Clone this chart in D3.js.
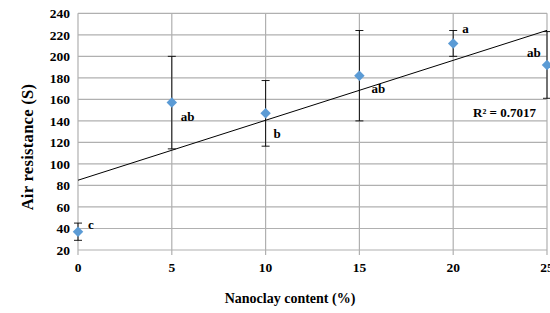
<!DOCTYPE html>
<html><head><meta charset="utf-8">
<script src="https://cdn.jsdelivr.net/npm/d3@7"></script>
<style>body{margin:0;background:#fff}svg{display:block}</style>
</head><body><svg id="c" width="550" height="313"></svg>
<script>
const xValues = [0, 5, 10, 15, 20, 25];
const yValues = [37, 157, 147, 182, 212, 192];
const errValues = [8, 43, 30.5, 42, 12, 31];
const letters = ["c", "ab", "b", "ab", "a", "ab"];
const yTicks = [20, 40, 60, 80, 100, 120, 140, 160, 180, 200, 220, 240];
const xTicks = [0, 5, 10, 15, 20, 25];
const r2Label = "R² = 0.7017";

const svg = d3.select("#c");
const x = d3.scaleLinear().domain([0, 25]).range([78, 547]);
const y = d3.scaleLinear().domain([20, 240]).range([250, 13.3]);
const font = "Liberation Serif, Times New Roman, Times, serif";

// grid
svg.append("g").selectAll("line").data(yTicks).join("line")
  .attr("x1", 78).attr("x2", 547).attr("y1", d => y(d)).attr("y2", d => y(d))
  .attr("stroke", "#b0b0b0").attr("stroke-width", 1.2);
svg.append("g").selectAll("line").data(xTicks).join("line")
  .attr("x1", d => x(d)).attr("x2", d => x(d)).attr("y1", y(240)).attr("y2", y(20) + 5)
  .attr("stroke", "#b0b0b0").attr("stroke-width", 1.2);

// y tick labels
svg.append("g").selectAll("text").data(yTicks).join("text")
  .attr("x", 70).attr("y", d => y(d)).attr("dy", "0.35em")
  .attr("text-anchor", "end").style("font-family", font).attr("font-weight", "bold")
  .attr("font-size", 13.5).text(d => d);
// x tick labels
svg.append("g").selectAll("text").data(xTicks).join("text")
  .attr("x", d => x(d)).attr("y", 272)
  .attr("text-anchor", "middle").style("font-family", font).attr("font-weight", "bold")
  .attr("font-size", 13.5).text(d => d);

// axis titles
svg.append("text").attr("transform", "translate(33,147) rotate(-90)")
  .attr("text-anchor", "middle").style("font-family", font).attr("font-weight", "bold")
  .attr("font-size", 16.5).attr("letter-spacing", 0.3).text("Air resistance  (S)");
svg.append("text").attr("x", 290).attr("y", 303)
  .attr("text-anchor", "middle").style("font-family", font).attr("font-weight", "bold")
  .attr("font-size", 14).text("Nanoclay content (%)");

// trend line (least squares)
const mx = d3.mean(xValues), my = d3.mean(yValues);
const sxy = d3.sum(xValues, (d, i) => (d - mx) * (yValues[i] - my));
const sxx = d3.sum(xValues, d => (d - mx) ** 2);
const slope = sxy / sxx, icpt = my - slope * mx;
svg.append("line").attr("x1", x(0)).attr("y1", y(icpt)).attr("x2", x(25)).attr("y2", y(icpt + slope * 25))
  .attr("stroke", "#000").attr("stroke-width", 1);

// error bars
const data = xValues.map((d, i) => ({x: d, y: yValues[i], e: errValues[i], l: letters[i]}));
const eb = svg.append("g").attr("stroke", "#000").attr("stroke-width", 0.9);
data.forEach(d => {
  eb.append("line").attr("x1", x(d.x)).attr("x2", x(d.x)).attr("y1", y(d.y - d.e)).attr("y2", y(d.y + d.e));
  [d.y - d.e, d.y + d.e].forEach(v => eb.append("line").attr("x1", x(d.x) - 4).attr("x2", x(d.x) + 4)
    .attr("y1", y(v)).attr("y2", y(v)));
});

// markers
svg.append("g").selectAll("path").data(data).join("path")
  .attr("transform", d => `translate(${x(d.x)},${y(d.y)})`)
  .attr("d", d3.symbol(d3.symbolDiamond2, 70))
  .attr("fill", "#5B9BD5");

// letters (offset of baseline from the marker centre)
const letterPos = [[10, -3], [9, 18], [8, 25], [12, 17.5], [9, -10], [-20, -7.5]];
svg.append("g").selectAll("text").data(data).join("text")
  .attr("x", (d, i) => x(d.x) + letterPos[i][0])
  .attr("y", (d, i) => y(d.y) + letterPos[i][1])
  .style("font-family", font).attr("font-weight", "bold").attr("font-size", 13)
  .text(d => d.l);

svg.append("text").attr("x", 473).attr("y", 117).style("font-family", font)
  .attr("font-weight", "bold").attr("font-size", 13).text(r2Label);
</script></body></html>
